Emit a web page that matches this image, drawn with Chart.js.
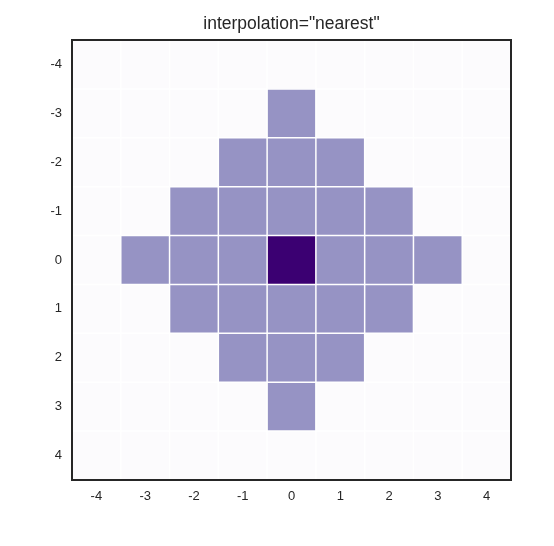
<!DOCTYPE html>
<html>
<head>
<meta charset="utf-8">
<script src="https://cdn.jsdelivr.net/npm/chart.js@4/dist/chart.umd.min.js"></script>
<style>
  html, body { margin: 0; padding: 0; background: #ffffff; }
  #wrap { width: 554px; height: 546px; }
</style>
</head>
<body>
<div id="wrap"><canvas id="chart"></canvas></div>
<script>
// grid positions
var cols = [-4, -3, -2, -1, 0, 1, 2, 3, 4];
var rows = [-4, -3, -2, -1, 0, 1, 2, 3, 4];

// one array per image row, top to bottom
var row0 = [0, 0, 0, 0, 0, 0, 0, 0, 0];
var row1 = [0, 0, 0, 0, 1, 0, 0, 0, 0];
var row2 = [0, 0, 0, 1, 1, 1, 0, 0, 0];
var row3 = [0, 0, 1, 1, 1, 1, 1, 0, 0];
var row4 = [0, 1, 1, 1, 2, 1, 1, 1, 0];
var row5 = [0, 0, 1, 1, 1, 1, 1, 0, 0];
var row6 = [0, 0, 0, 1, 1, 1, 0, 0, 0];
var row7 = [0, 0, 0, 0, 1, 0, 0, 0, 0];
var row8 = [0, 0, 0, 0, 0, 0, 0, 0, 0];
var values = [row0, row1, row2, row3, row4, row5, row6, row7, row8];

// colour for each value level (Purples-like)
var levelColors = ['#fcfbfd', '#9693c4', '#3b0072'];

var points = [];
for (var r = 0; r < rows.length; r++) {
    for (var c = 0; c < cols.length; c++) {
        points.push({ x: cols[c], y: rows[r], v: values[r][c] });
    }
}

// draws each cell as a rectangle through the scales, then the grid and frame
var heatmapPlugin = {
    id: 'heatmap',
    afterLayout: function (chart) {
        // center the title over the plot area, not the whole canvas
        if (chart.titleBlock) {
            chart.titleBlock.left = chart.chartArea.left;
            chart.titleBlock.right = chart.chartArea.right;
        }
    },
    beforeDatasetsDraw: function (chart) {
        var ctx = chart.ctx;
        var xs = chart.scales.x, ys = chart.scales.y;
        var pts = chart.data.datasets[0].data;
        ctx.save();
        for (var i = 0; i < pts.length; i++) {
            var p = pts[i];
            var x0 = xs.getPixelForValue(p.x - 0.5), x1 = xs.getPixelForValue(p.x + 0.5);
            var y0 = ys.getPixelForValue(p.y - 0.5), y1 = ys.getPixelForValue(p.y + 0.5);
            ctx.fillStyle = levelColors[p.v];
            ctx.fillRect(Math.min(x0, x1), Math.min(y0, y1), Math.abs(x1 - x0), Math.abs(y1 - y0));
        }
        ctx.restore();
    },
    afterDatasetsDraw: function (chart) {
        var ctx = chart.ctx;
        var a = chart.chartArea;
        var xs = chart.scales.x, ys = chart.scales.y;
        ctx.save();
        ctx.strokeStyle = '#ffffff';
        ctx.lineWidth = 1.5;
        for (var k = 0; k < cols.length - 1; k++) {
            var gx = xs.getPixelForValue(cols[k] + 0.5);
            ctx.beginPath(); ctx.moveTo(gx, a.top); ctx.lineTo(gx, a.bottom); ctx.stroke();
        }
        for (var k = 0; k < rows.length - 1; k++) {
            var gy = ys.getPixelForValue(rows[k] + 0.5);
            ctx.beginPath(); ctx.moveTo(a.left, gy); ctx.lineTo(a.right, gy); ctx.stroke();
        }
        ctx.strokeStyle = '#262626';
        ctx.lineWidth = 2;
        ctx.strokeRect(a.left, a.top, a.right - a.left, a.bottom - a.top);
        ctx.restore();
    }
};

var tickFont = { family: 'Liberation Sans, Arial, sans-serif', size: 13 };

new Chart(document.getElementById('chart'), {
    type: 'scatter',
    data: {
        datasets: [{
            data: points,
            pointRadius: 0,
            pointHoverRadius: 0
        }]
    },
    options: {
        responsive: true,
        maintainAspectRatio: false,
        animation: false,
        events: [],
        layout: { padding: { left: 0, right: 43, top: 0, bottom: 0 } },
        plugins: {
            legend: { display: false },
            tooltip: { enabled: false },
            title: {
                display: true,
                text: 'interpolation="nearest"',
                color: '#262626',
                font: { family: 'Liberation Sans, Arial, sans-serif', size: 17.5, weight: 'normal', lineHeight: 1.2 },
                padding: { top: 14, bottom: 5 }
            }
        },
        scales: {
            x: {
                type: 'linear',
                min: -4.5,
                max: 4.5,
                afterBuildTicks: function (scale) {
                    scale.ticks = cols.map(function (v) { return { value: v }; });
                },
                afterFit: function (scale) { scale.height = 66; },
                grid: { display: false, drawTicks: false },
                border: { display: false },
                ticks: { color: '#262626', font: tickFont, padding: 9, maxRotation: 0 }
            },
            y: {
                type: 'linear',
                reverse: true,
                min: -4.5,
                max: 4.5,
                afterBuildTicks: function (scale) {
                    scale.ticks = rows.map(function (v) { return { value: v }; });
                },
                afterFit: function (scale) { scale.width = 72; },
                grid: { display: false, drawTicks: false },
                border: { display: false },
                ticks: { color: '#262626', font: tickFont, padding: 10 }
            }
        }
    },
    plugins: [heatmapPlugin]
});
</script>
</body>
</html>
